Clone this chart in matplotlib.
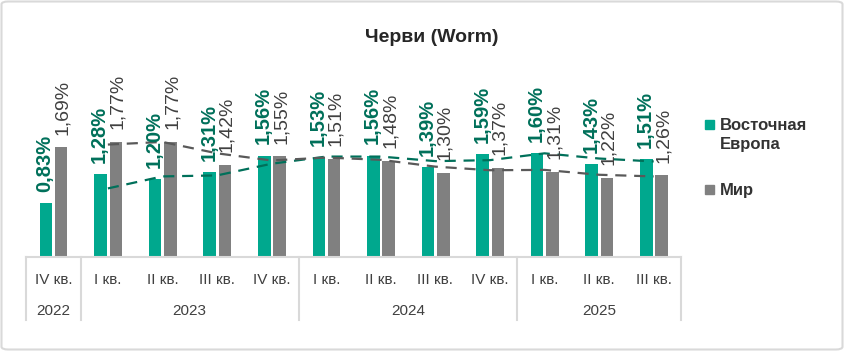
import numpy as np
import pandas as pd
import matplotlib
matplotlib.use('Agg')
import matplotlib.pyplot as plt
from matplotlib.patches import FancyBboxPatch
from matplotlib import font_manager

# data
quarters = ['IV кв.', 'I кв.', 'II кв.', 'III кв.', 'IV кв.',
            'I кв.', 'II кв.', 'III кв.', 'IV кв.',
            'I кв.', 'II кв.', 'III кв.']
years = ['2022', '2023', '2024', '2025']
year_counts = [1, 4, 4, 3]
east_europe = [0.83, 1.28, 1.20, 1.31, 1.56, 1.53, 1.56, 1.39, 1.59, 1.60, 1.43, 1.51]
world = [1.69, 1.77, 1.77, 1.42, 1.55, 1.51, 1.48, 1.30, 1.37, 1.31, 1.22, 1.26]

green = '#00A88E'
green_dark = '#00705A'
grey = '#808080'
grey_dark = '#595959'
text_col = '#404040'
line_col = '#D9D9D9'

plt.rcParams['font.family'] = ['Liberation Sans', 'DejaVu Sans']
names = {f.name for f in font_manager.fontManager.ttflist}
label_font = 'Liberation Sans Narrow' if 'Liberation Sans Narrow' in names else 'Liberation Sans'

W, H = 844, 351
fig = plt.figure(figsize=(W / 100, H / 100), dpi=100)
ax = fig.add_axes([26 / W, (H - 257) / H, 655 / W, 175.5 / H])

x = np.arange(len(quarters))
bw = 0.23
ax.bar(x - 0.135, east_europe, bw, color=green, zorder=2)
ax.bar(x + 0.145, world, bw, color=grey, zorder=2)

for xi, v in zip(x, east_europe):
    ax.annotate(f'{v:.2f}%'.replace('.', ','), (xi - 0.15, v), xytext=(0, 8),
                textcoords='offset points', rotation=90, ha='center', va='bottom',
                fontsize=14.5, fontweight='bold', family=label_font,
                color=green_dark, zorder=4)
for xi, v in zip(x, world):
    ax.annotate(f'{v:.2f}%'.replace('.', ','), (xi + 0.175, v), xytext=(0, 9),
                textcoords='offset points', rotation=90, ha='center', va='bottom',
                fontsize=14, family=label_font, color=text_col, zorder=4)

# 2-period moving average trendlines
ma_e = pd.Series(east_europe).rolling(2).mean()
ma_w = pd.Series(world).rolling(2).mean()
ax.plot(x[1:], ma_e[1:], ls=(0, (5, 3.5)), color=green_dark, lw=1.6, zorder=3)
ax.plot(x[1:], ma_w[1:], ls=(0, (5, 3.5)), color=grey_dark, lw=1.6, zorder=3)

ax.set_xlim(-0.5, len(quarters) - 0.5)
ax.set_ylim(0, 2.7)
ax.set_xticks([])
ax.set_yticks([])
for s in ax.spines.values():
    s.set_visible(False)

# category axis: quarters, years and dividers
px = 1 / 175.5
tr = ax.get_xaxis_transform()
ax.plot([-0.5, len(quarters) - 0.5], [0, 0], color=line_col, lw=1.5,
        transform=tr, clip_on=False)
for xi, q in zip(x, quarters):
    ax.text(xi, -23 * px, q, transform=tr, ha='center', va='center',
            fontsize=11, color=text_col)
start = 0
bounds = [-0.5]
for yr, n in zip(years, year_counts):
    ax.text(start + (n - 1) / 2, -54 * px, yr, transform=tr, ha='center',
            va='center', fontsize=11, color=text_col)
    start += n
    bounds.append(start - 0.5)
for b in bounds:
    ax.plot([b, b], [0, -63 * px], color=line_col, lw=1.5, transform=tr,
            clip_on=False)

fig.text(432 / W, 1 - 37 / H, 'Черви (Worm)', ha='center', va='center',
         fontsize=14, fontweight='bold', color='#262626')

# legend
fig.patches.append(plt.Rectangle((705 / W, 1 - 129 / H), 9 / W, 9 / H,
                                 color=green, transform=fig.transFigure))
fig.text(720 / W, 1 - 135 / H, 'Восточная\nЕвропа', ha='left', va='center',
         fontsize=12, fontweight='bold', color='#333333', linespacing=1.3)
fig.patches.append(plt.Rectangle((705 / W, 1 - 194 / H), 9 / W, 9 / H,
                                 color=grey, transform=fig.transFigure))
fig.text(720 / W, 1 - 190 / H, 'Мир', ha='left', va='center',
         fontsize=12, fontweight='bold', color='#333333')

fig.patches.append(FancyBboxPatch((1.5 / W, 1.5 / H), 1 - 3 / W, 1 - 3 / H,
                                  boxstyle='round,pad=0,rounding_size=0.008',
                                  fill=False, ec=line_col, lw=1.5,
                                  transform=fig.transFigure))

fig.savefig('out.png', dpi=100)
